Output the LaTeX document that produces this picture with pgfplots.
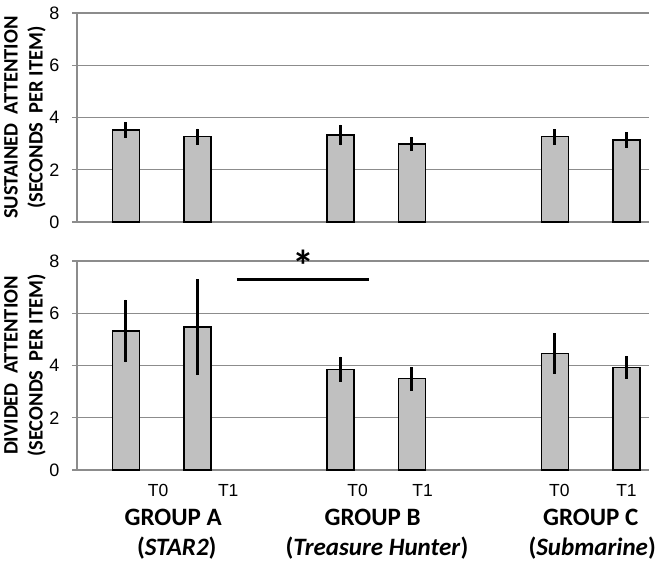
\documentclass[border=0pt]{standalone}
\usepackage{pgfplots}
\pgfplotsset{compat=1.18}
\usepackage{fontspec}
\setmainfont{Carlito}
\newfontfamily\arial{Liberation Sans}
\definecolor{gridgray}{HTML}{8C8C8C}
\definecolor{barfill}{HTML}{C0C0C0}

\pgfplotstableread{
x y err
0 3.52 0.31
1 3.26 0.31
3 3.33 0.40
4 2.99 0.27
6 3.26 0.30
7 3.14 0.29
}\sustained

\pgfplotstableread{
x y err
0 5.32 1.20
1 5.47 1.84
3 3.86 0.48
4 3.49 0.45
6 4.46 0.78
7 3.93 0.44
}\divided

\tikzset{
  tlab/.style={font=\arial\fontsize{17.5}{17.5}\selectfont},
  glab/.style={font=\bfseries\fontsize{25}{25}\selectfont},
}

\pgfplotsset{
  panel/.style={
    scale only axis,
    width=572pt, height=209pt,
    anchor=south west,
    xmin=-0.685, xmax=7.315,
    ymin=0, ymax=8,
    ytick={0,2,4,6,8},
    xtick=\empty,
    axis x line*=bottom,
    axis y line*=left,
    axis line style={draw=gridgray, line width=1.1pt, -},
    ymajorgrids,
    grid style={draw=gridgray, line width=1.1pt},
    tick align=outside,
    major tick length=5pt,
    tick style={draw=gridgray, line width=1.1pt},
    /pgf/number format/assume math mode=true,
    yticklabel style={font=\arial\fontsize{18}{18}\selectfont, xshift=-9pt},
    ylabel style={at={(axis description cs:0,0.5)}, anchor=center, yshift=52pt,
      align=center, font=\bfseries\fontsize{20.5}{25}\selectfont},
    clip=false,
  },
  barsty/.style={
    ybar, bar width=27pt, fill=barfill, draw=black, line width=1.3pt,
    error bars/.cd, y dir=both, y explicit,
    error mark=none,
    error bar style={line width=3pt, black},
  },
}

\begin{document}
\begin{tikzpicture}
\path[use as bounding box] (0pt,0pt) rectangle (666pt,567pt);

\begin{axis}[panel, at={(77pt,345pt)},
  ylabel={SUSTAINED\ \ ATTENTION\\(SECONDS\ \ PER ITEM)}]
\addplot[barsty] table[x=x, y=y, y error=err] {\sustained};
\end{axis}

\begin{axis}[panel, at={(77pt,97pt)},
  ylabel={DIVIDED\ \ ATTENTION\\(SECONDS\ \ PER ITEM)}]
\addplot[barsty] table[x=x, y=y, y error=err] {\divided};
\draw[line width=2.8pt, black] (axis cs:1.55,7.28) -- (axis cs:3.40,7.28);
\node[font=\bfseries\fontsize{44}{44}\selectfont, inner sep=0pt, anchor=base] at (axis cs:2.48,7.22) {*};
\node[tlab] at (axis cs:0.45,-0.77) {T0};
\node[tlab] at (axis cs:1.43,-0.77) {T1};
\node[tlab] at (axis cs:3.24,-0.77) {T0};
\node[tlab] at (axis cs:4.15,-0.77) {T1};
\node[tlab] at (axis cs:6.06,-0.77) {T0};
\node[tlab] at (axis cs:7.0,-0.77) {T1};
\node[glab] at (axis cs:0.66,-1.8) {GROUP A};
\node[glab] at (axis cs:0.71,-3.0) {(\textit{STAR2})};
\node[glab] at (axis cs:3.45,-1.8) {GROUP B};
\node[glab] at (axis cs:3.51,-3.0) {(\textit{Treasure Hunter})};
\node[glab] at (axis cs:6.5,-1.8) {GROUP C};
\node[glab] at (axis cs:6.52,-3.0) {(\textit{Submarine})};
\end{axis}
\end{tikzpicture}
\end{document}
